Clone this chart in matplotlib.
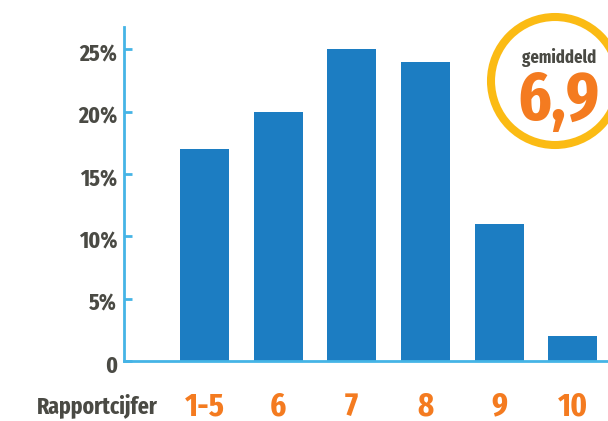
import matplotlib.pyplot as plt
from matplotlib.patches import Circle
from matplotlib.transforms import IdentityTransform, ScaledTranslation, blended_transform_factory

# data
categories = ['1-5', '6', '7', '8', '9', '10']
percentages = [17, 20, 25, 24, 11, 2]
y_ticks = [0, 5, 10, 15, 20, 25]
y_labels = ['0', '5%', '10%', '15%', '20%', '25%']
average = '6,9'

narrow = ['Fira Sans Extra Condensed', 'Fira Sans Condensed', 'Roboto Condensed', 'DejaVu Sans']
bar_color = '#1c7dc2'
axis_color = '#45b4e6'
grey = '#4a4a44'
orange = '#f47b20'

fig = plt.figure(figsize=(6.08, 4.21), dpi=100)
ax = fig.add_axes([124 / 608, 60 / 421, 484 / 608, 334 / 421])

x = list(range(len(categories)))
ax.bar(x, percentages, width=0.665, color=bar_color, zorder=2)

ax.set_xlim(-1.094, 5.48)
ax.set_ylim(0, 26.8)

for side in ['top', 'right']:
    ax.spines[side].set_visible(False)
for side in ['left', 'bottom']:
    ax.spines[side].set_color(axis_color)
    ax.spines[side].set_linewidth(2)

ax.set_yticks(y_ticks)
ax.set_yticklabels(y_labels, family=narrow, fontweight='bold', fontsize=17, color=grey)
ax.tick_params(axis='y', direction='in', length=6, width=2, color=axis_color, pad=5)
# labels sit a little below their tick marks in the original
shift = ScaledTranslation(0, -3 / 100, fig.dpi_scale_trans)
for lbl in ax.get_yticklabels():
    lbl.set_transform(lbl.get_transform() + shift)

# category labels under the bars
ax.set_xticks(x)
ax.set_xticklabels([])
ax.tick_params(axis='x', length=0)
trans = blended_transform_factory(ax.transData, fig.transFigure)
for xi, cat in zip(x, categories):
    ax.text(xi, 6 / 421, cat, transform=trans, family=narrow, fontweight='bold',
            fontsize=24, color=orange, ha='center', va='baseline')

fig.text(37 / 608, 8 / 421, 'Rapportcijfer', family=narrow, fontweight='bold',
         fontsize=17, color=grey, ha='left', va='baseline')

# average badge
fig.add_artist(Circle((555, 421 - 81), 64, transform=IdentityTransform(),
                      facecolor='white', edgecolor='#fbbb14', linewidth=5.8, zorder=5))
fig.text(559 / 608, (421 - 63) / 421, 'gemiddeld', family=narrow, fontweight='bold',
         fontsize=13, color=grey, ha='center', va='baseline', zorder=6)
fig.text(559 / 608, (421 - 120) / 421, average, family=narrow, fontweight='bold',
         fontsize=50, color=orange, ha='center', va='baseline', zorder=6)

fig.savefig('out.png', dpi=100)
